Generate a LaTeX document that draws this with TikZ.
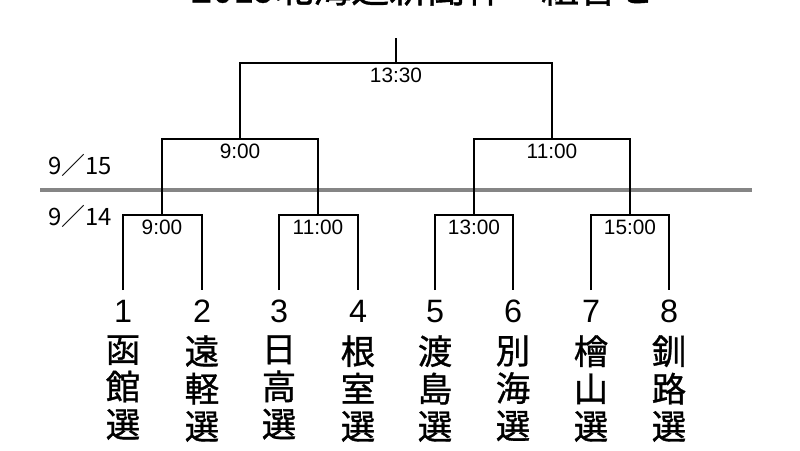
\documentclass[tikz,border=0pt]{standalone}
\usepackage{fontspec}
\setmainfont{Liberation Sans}
\newfontfamily\jp{Noto Sans CJK JP}
\newfontfamily\jpb[FakeBold=1]{Noto Sans CJK JP}
\usepackage{tikz}

\tikzset{
  game/.style={anchor=north,inner xsep=1pt,inner ysep=3.5pt,font=\fontsize{14.8}{16}\selectfont},
  team/.style={anchor=north,inner xsep=1pt,inner ysep=7pt,font=\fontsize{23}{26}\selectfont},
  town/.style={anchor=north,inner sep=0pt,align=center,font=\jpb\fontsize{24.5}{26.7}\selectfont},
  day/.style={inner sep=0pt,font=\jp\fontsize{17}{19}\selectfont},
  bracket/.style={line width=1.8pt},
}

\begin{document}
\begin{tikzpicture}[x=0.025cm,y=-0.025cm]
    \useasboundingbox (0,0) rectangle (800,450);
    \node[anchor=base,inner sep=0pt,font=\jpb\fontsize{27}{30}\selectfont] (title) at (423,2.5) {2019北海道新聞杯　組合せ};
    % day line
    \coordinate (l) at (40,190);
    \coordinate (r) at (752,190);
    \draw[black!48,line width=2.4pt] (l) -- (r);
    \node[day] (d15) at (80,165) {9／15};
    \node[day] (d14) at (80,216) {9／14};
    % teams
    \node[team] (1) at (123,290) {1};
    \node[team] (2) at (202,290) {2};
    \node[team] (3) at (279,290) {3};
    \node[team] (4) at (358,290) {4};
    \node[team] (5) at (435,290) {5};
    \node[team] (6) at (513,290) {6};
    \node[team] (7) at (591,290) {7};
    \node[team] (8) at (669,290) {8};
    \node[town] (n1) at (123,335) {函\\館\\選};
    \node[town] (n2) at (202,335) {遠\\軽\\選};
    \node[town] (n3) at (279,335) {日\\高\\選};
    \node[town] (n4) at (358,335) {根\\室\\選};
    \node[town] (n5) at (435,335) {渡\\島\\選};
    \node[town] (n6) at (513,335) {別\\海\\選};
    \node[town] (n7) at (591,335) {檜\\山\\選};
    \node[town] (n8) at (669,335) {釧\\路\\選};
    % games
    \node[game] (g1) at (162,215) {9:00};
    \node[game] (g2) at (318,215) {11:00};
    \node[game] (g3) at (474,215) {13:00};
    \node[game] (g4) at (630,215) {15:00};
    \node[game] (g5) at (240,139) {9:00};
    \node[game] (g6) at (552,139) {11:00};
    \node[game] (g7) at (396,63) {13:30};
    \coordinate (top) at (396,38);
    \draw[bracket] (1.north) |- (g1.north) -| (2.north);
    \draw[bracket] (3.north) |- (g2.north) -| (4.north);
    \draw[bracket] (5.north) |- (g3.north) -| (6.north);
    \draw[bracket] (7.north) |- (g4.north) -| (8.north);
    \draw[bracket] (g1.north) |- (g5.north) -| (g2.north);
    \draw[bracket] (g3.north) |- (g6.north) -| (g4.north);
    \draw[bracket] (g5.north) |- (g7.north) -| (g6.north);
    \draw[bracket] (g7.north) -- (top);
\end{tikzpicture}
\end{document}
